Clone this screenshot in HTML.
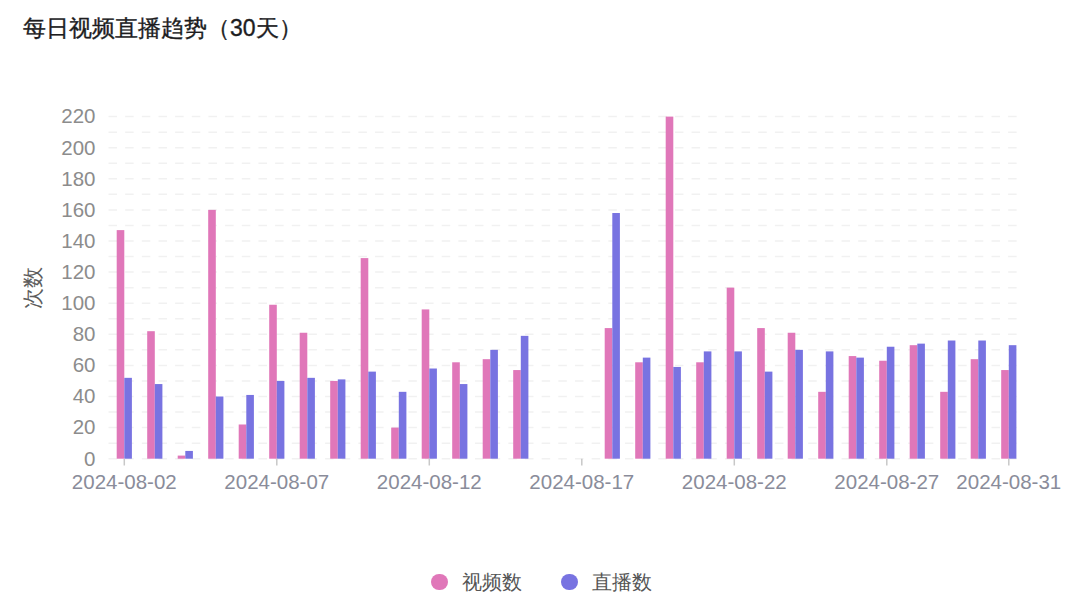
<!DOCTYPE html>
<html><head><meta charset="utf-8"><style>
html,body{margin:0;padding:0;background:#fff;width:1080px;height:604px;overflow:hidden}
body{font-family:"Liberation Sans",sans-serif;position:relative}
.title{position:absolute;left:23px;top:13px;font-size:23px;color:#1d1d1f;white-space:nowrap;-webkit-text-stroke:0.35px #1d1d1f}
svg{position:absolute;left:0;top:0}
.yl{font-size:20.5px;fill:#8c8c8c;font-family:"Liberation Sans",sans-serif}
.xl{font-size:20.5px;fill:#8a8c9a;font-family:"Liberation Sans",sans-serif}
.yt{position:absolute;left:11.5px;top:274px;font-size:20.5px;color:#5c5c5c;transform:rotate(-90deg);transform-origin:center;white-space:nowrap}
.leg{position:absolute;top:569px;font-size:19.5px;color:#555;white-space:nowrap}
.dot{position:absolute;width:16.7px;height:16.7px;border-radius:50%;top:573.8px}
</style></head><body>
<div class="title">每日视频直播趋势（30天）</div>
<svg width="1080" height="604" viewBox="0 0 1080 604">
<line x1="108.5" y1="443.15" x2="1024.5" y2="443.15" stroke="#f1f1f1" stroke-width="1.5" stroke-dasharray="8.5 8.16"/>
<line x1="108.5" y1="427.60" x2="1024.5" y2="427.60" stroke="#f1f1f1" stroke-width="1.5" stroke-dasharray="8.5 8.16"/>
<line x1="108.5" y1="412.05" x2="1024.5" y2="412.05" stroke="#f1f1f1" stroke-width="1.5" stroke-dasharray="8.5 8.16"/>
<line x1="108.5" y1="396.50" x2="1024.5" y2="396.50" stroke="#f1f1f1" stroke-width="1.5" stroke-dasharray="8.5 8.16"/>
<line x1="108.5" y1="380.95" x2="1024.5" y2="380.95" stroke="#f1f1f1" stroke-width="1.5" stroke-dasharray="8.5 8.16"/>
<line x1="108.5" y1="365.40" x2="1024.5" y2="365.40" stroke="#f1f1f1" stroke-width="1.5" stroke-dasharray="8.5 8.16"/>
<line x1="108.5" y1="349.85" x2="1024.5" y2="349.85" stroke="#f1f1f1" stroke-width="1.5" stroke-dasharray="8.5 8.16"/>
<line x1="108.5" y1="334.30" x2="1024.5" y2="334.30" stroke="#f1f1f1" stroke-width="1.5" stroke-dasharray="8.5 8.16"/>
<line x1="108.5" y1="318.75" x2="1024.5" y2="318.75" stroke="#f1f1f1" stroke-width="1.5" stroke-dasharray="8.5 8.16"/>
<line x1="108.5" y1="303.20" x2="1024.5" y2="303.20" stroke="#f1f1f1" stroke-width="1.5" stroke-dasharray="8.5 8.16"/>
<line x1="108.5" y1="287.65" x2="1024.5" y2="287.65" stroke="#f1f1f1" stroke-width="1.5" stroke-dasharray="8.5 8.16"/>
<line x1="108.5" y1="272.10" x2="1024.5" y2="272.10" stroke="#f1f1f1" stroke-width="1.5" stroke-dasharray="8.5 8.16"/>
<line x1="108.5" y1="256.55" x2="1024.5" y2="256.55" stroke="#f1f1f1" stroke-width="1.5" stroke-dasharray="8.5 8.16"/>
<line x1="108.5" y1="241.00" x2="1024.5" y2="241.00" stroke="#f1f1f1" stroke-width="1.5" stroke-dasharray="8.5 8.16"/>
<line x1="108.5" y1="225.45" x2="1024.5" y2="225.45" stroke="#f1f1f1" stroke-width="1.5" stroke-dasharray="8.5 8.16"/>
<line x1="108.5" y1="209.90" x2="1024.5" y2="209.90" stroke="#f1f1f1" stroke-width="1.5" stroke-dasharray="8.5 8.16"/>
<line x1="108.5" y1="194.35" x2="1024.5" y2="194.35" stroke="#f1f1f1" stroke-width="1.5" stroke-dasharray="8.5 8.16"/>
<line x1="108.5" y1="178.80" x2="1024.5" y2="178.80" stroke="#f1f1f1" stroke-width="1.5" stroke-dasharray="8.5 8.16"/>
<line x1="108.5" y1="163.25" x2="1024.5" y2="163.25" stroke="#f1f1f1" stroke-width="1.5" stroke-dasharray="8.5 8.16"/>
<line x1="108.5" y1="147.70" x2="1024.5" y2="147.70" stroke="#f1f1f1" stroke-width="1.5" stroke-dasharray="8.5 8.16"/>
<line x1="108.5" y1="132.15" x2="1024.5" y2="132.15" stroke="#f1f1f1" stroke-width="1.5" stroke-dasharray="8.5 8.16"/>
<line x1="108.5" y1="116.60" x2="1024.5" y2="116.60" stroke="#f1f1f1" stroke-width="1.5" stroke-dasharray="8.5 8.16"/>
<line x1="108.5" y1="458.70" x2="1024.5" y2="458.70" stroke="#f1f1f1" stroke-width="1.5" stroke-dasharray="8.5 8.16"/>
<text x="95.5" y="465.50" text-anchor="end" class="yl">0</text>
<text x="95.5" y="434.40" text-anchor="end" class="yl">20</text>
<text x="95.5" y="403.30" text-anchor="end" class="yl">40</text>
<text x="95.5" y="372.20" text-anchor="end" class="yl">60</text>
<text x="95.5" y="341.10" text-anchor="end" class="yl">80</text>
<text x="95.5" y="310.00" text-anchor="end" class="yl">100</text>
<text x="95.5" y="278.90" text-anchor="end" class="yl">120</text>
<text x="95.5" y="247.80" text-anchor="end" class="yl">140</text>
<text x="95.5" y="216.70" text-anchor="end" class="yl">160</text>
<text x="95.5" y="185.60" text-anchor="end" class="yl">180</text>
<text x="95.5" y="154.50" text-anchor="end" class="yl">200</text>
<text x="95.5" y="123.40" text-anchor="end" class="yl">220</text>
<rect x="116.70" y="230.11" width="7.6" height="228.59" fill="#e077b9"/>
<rect x="124.30" y="377.84" width="7.6" height="80.86" fill="#7873e1"/>
<rect x="147.20" y="331.19" width="7.6" height="127.51" fill="#e077b9"/>
<rect x="154.80" y="384.06" width="7.6" height="74.64" fill="#7873e1"/>
<rect x="177.70" y="455.59" width="7.6" height="3.11" fill="#e077b9"/>
<rect x="185.30" y="450.93" width="7.6" height="7.78" fill="#7873e1"/>
<rect x="208.20" y="209.90" width="7.6" height="248.80" fill="#e077b9"/>
<rect x="215.80" y="396.50" width="7.6" height="62.20" fill="#7873e1"/>
<rect x="238.70" y="424.49" width="7.6" height="34.21" fill="#e077b9"/>
<rect x="246.30" y="394.94" width="7.6" height="63.76" fill="#7873e1"/>
<rect x="269.20" y="304.75" width="7.6" height="153.95" fill="#e077b9"/>
<rect x="276.80" y="380.95" width="7.6" height="77.75" fill="#7873e1"/>
<rect x="299.70" y="332.75" width="7.6" height="125.96" fill="#e077b9"/>
<rect x="307.30" y="377.84" width="7.6" height="80.86" fill="#7873e1"/>
<rect x="330.20" y="380.95" width="7.6" height="77.75" fill="#e077b9"/>
<rect x="337.80" y="379.39" width="7.6" height="79.31" fill="#7873e1"/>
<rect x="360.70" y="258.10" width="7.6" height="200.60" fill="#e077b9"/>
<rect x="368.30" y="371.62" width="7.6" height="87.08" fill="#7873e1"/>
<rect x="391.20" y="427.60" width="7.6" height="31.10" fill="#e077b9"/>
<rect x="398.80" y="391.83" width="7.6" height="66.87" fill="#7873e1"/>
<rect x="421.70" y="309.42" width="7.6" height="149.28" fill="#e077b9"/>
<rect x="429.30" y="368.51" width="7.6" height="90.19" fill="#7873e1"/>
<rect x="452.20" y="362.29" width="7.6" height="96.41" fill="#e077b9"/>
<rect x="459.80" y="384.06" width="7.6" height="74.64" fill="#7873e1"/>
<rect x="482.70" y="359.18" width="7.6" height="99.52" fill="#e077b9"/>
<rect x="490.30" y="349.85" width="7.6" height="108.85" fill="#7873e1"/>
<rect x="513.20" y="370.06" width="7.6" height="88.64" fill="#e077b9"/>
<rect x="520.80" y="335.85" width="7.6" height="122.85" fill="#7873e1"/>
<rect x="604.70" y="328.08" width="7.6" height="130.62" fill="#e077b9"/>
<rect x="612.30" y="213.01" width="7.6" height="245.69" fill="#7873e1"/>
<rect x="635.20" y="362.29" width="7.6" height="96.41" fill="#e077b9"/>
<rect x="642.80" y="357.62" width="7.6" height="101.08" fill="#7873e1"/>
<rect x="665.70" y="116.60" width="7.6" height="342.10" fill="#e077b9"/>
<rect x="673.30" y="366.95" width="7.6" height="91.75" fill="#7873e1"/>
<rect x="696.20" y="362.29" width="7.6" height="96.41" fill="#e077b9"/>
<rect x="703.80" y="351.40" width="7.6" height="107.30" fill="#7873e1"/>
<rect x="726.70" y="287.65" width="7.6" height="171.05" fill="#e077b9"/>
<rect x="734.30" y="351.40" width="7.6" height="107.30" fill="#7873e1"/>
<rect x="757.20" y="328.08" width="7.6" height="130.62" fill="#e077b9"/>
<rect x="764.80" y="371.62" width="7.6" height="87.08" fill="#7873e1"/>
<rect x="787.70" y="332.75" width="7.6" height="125.96" fill="#e077b9"/>
<rect x="795.30" y="349.85" width="7.6" height="108.85" fill="#7873e1"/>
<rect x="818.20" y="391.83" width="7.6" height="66.87" fill="#e077b9"/>
<rect x="825.80" y="351.40" width="7.6" height="107.30" fill="#7873e1"/>
<rect x="848.70" y="356.07" width="7.6" height="102.63" fill="#e077b9"/>
<rect x="856.30" y="357.62" width="7.6" height="101.08" fill="#7873e1"/>
<rect x="879.20" y="360.74" width="7.6" height="97.97" fill="#e077b9"/>
<rect x="886.80" y="346.74" width="7.6" height="111.96" fill="#7873e1"/>
<rect x="909.70" y="345.18" width="7.6" height="113.52" fill="#e077b9"/>
<rect x="917.30" y="343.63" width="7.6" height="115.07" fill="#7873e1"/>
<rect x="940.20" y="391.83" width="7.6" height="66.87" fill="#e077b9"/>
<rect x="947.80" y="340.52" width="7.6" height="118.18" fill="#7873e1"/>
<rect x="970.70" y="359.18" width="7.6" height="99.52" fill="#e077b9"/>
<rect x="978.30" y="340.52" width="7.6" height="118.18" fill="#7873e1"/>
<rect x="1001.20" y="370.06" width="7.6" height="88.64" fill="#e077b9"/>
<rect x="1008.80" y="345.18" width="7.6" height="113.52" fill="#7873e1"/>
<line x1="124.30" y1="458.70" x2="124.30" y2="465.5" stroke="#c8c8c8" stroke-width="1.5"/>
<text x="124.30" y="489.3" text-anchor="middle" class="xl">2024-08-02</text>
<line x1="276.80" y1="458.70" x2="276.80" y2="465.5" stroke="#c8c8c8" stroke-width="1.5"/>
<text x="276.80" y="489.3" text-anchor="middle" class="xl">2024-08-07</text>
<line x1="429.30" y1="458.70" x2="429.30" y2="465.5" stroke="#c8c8c8" stroke-width="1.5"/>
<text x="429.30" y="489.3" text-anchor="middle" class="xl">2024-08-12</text>
<line x1="581.80" y1="458.70" x2="581.80" y2="465.5" stroke="#c8c8c8" stroke-width="1.5"/>
<text x="581.80" y="489.3" text-anchor="middle" class="xl">2024-08-17</text>
<line x1="734.30" y1="458.70" x2="734.30" y2="465.5" stroke="#c8c8c8" stroke-width="1.5"/>
<text x="734.30" y="489.3" text-anchor="middle" class="xl">2024-08-22</text>
<line x1="886.80" y1="458.70" x2="886.80" y2="465.5" stroke="#c8c8c8" stroke-width="1.5"/>
<text x="886.80" y="489.3" text-anchor="middle" class="xl">2024-08-27</text>
<line x1="1008.80" y1="458.70" x2="1008.80" y2="465.5" stroke="#c8c8c8" stroke-width="1.5"/>
<text x="1008.80" y="489.3" text-anchor="middle" class="xl">2024-08-31</text>
</svg>
<div class="yt">次数</div>
<div class="dot" style="left:431px;background:#e077b9"></div>
<div class="leg" style="left:462px">视频数</div>
<div class="dot" style="left:561px;background:#7873e1"></div>
<div class="leg" style="left:592px">直播数</div>
</body></html>
